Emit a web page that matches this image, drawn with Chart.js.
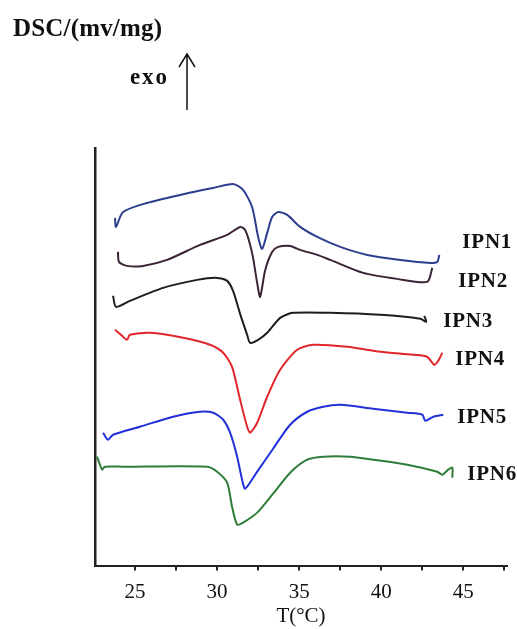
<!DOCTYPE html>
<html>
<head>
<meta charset="utf-8">
<script src="https://cdn.jsdelivr.net/npm/chart.js@4/dist/chart.umd.min.js"></script>
<style>
  html, body { margin: 0; padding: 0; background: #fff; }
  #wrap { width: 517px; height: 629px; }
</style>
</head>
<body>
<div id="wrap"><canvas id="chartDsc" width="517" height="629"></canvas></div>
<script>
// temperature (°C) and DSC signal (arbitrary units, curves offset)
const ipn1T = [23.78, 23.84, 24.27, 25.73, 27.74, 29.76, 30.97, 31.58, 32.13, 32.50, 32.74, 33.05, 33.35, 33.72, 34.27, 35.06, 36.10, 37.50, 39.15, 41.16, 42.99, 43.41, 43.54];
const ipn1Y = [34.8, 33.9, 35.4, 36.3, 37.1, 37.8, 38.2, 37.6, 35.9, 32.9, 31.7, 33.3, 34.9, 35.4, 35.1, 33.9, 32.9, 31.9, 31.1, 30.6, 30.3, 30.4, 31.1];

const ipn2T = [23.96, 24.02, 24.51, 25.49, 26.95, 28.96, 30.61, 31.40, 31.71, 32.13, 32.44, 32.62, 32.93, 33.35, 33.72, 34.45, 35.06, 36.10, 36.89, 38.90, 40.97, 42.80, 43.11];
const ipn2Y = [31.4, 30.4, 30.0, 30.0, 30.6, 32.1, 33.1, 33.9, 33.6, 31.3, 28.3, 26.9, 29.6, 31.4, 31.9, 32.0, 31.6, 31.1, 30.6, 29.3, 28.7, 28.4, 29.8];

const ipn3T = [23.66, 23.84, 24.69, 26.71, 28.78, 30.00, 30.61, 30.97, 31.40, 31.83, 32.01, 32.50, 33.05, 33.84, 34.63, 36.89, 39.94, 42.38, 42.74, 42.62];
const ipn3Y = [27.0, 25.9, 26.5, 27.8, 28.6, 28.8, 28.5, 27.5, 25.2, 23.1, 22.3, 22.6, 23.3, 24.8, 25.3, 25.3, 25.1, 24.7, 24.4, 25.0];

const ipn4T = [23.78, 24.21, 24.51, 24.69, 25.91, 27.93, 29.57, 30.37, 30.91, 31.40, 31.83, 32.01, 32.44, 33.05, 33.84, 34.88, 35.85, 37.93, 39.94, 41.95, 42.80, 43.23, 43.47, 43.72];
const ipn4Y = [23.6, 23.0, 22.6, 23.1, 23.3, 22.8, 22.1, 21.3, 19.9, 16.6, 13.9, 13.3, 14.3, 16.9, 19.6, 21.6, 22.1, 21.9, 21.4, 21.1, 20.9, 20.1, 20.5, 21.3];

const ipn5T = [23.05, 23.35, 23.66, 25.30, 27.32, 28.96, 29.76, 30.37, 30.79, 31.22, 31.52, 31.71, 32.44, 33.41, 34.45, 35.49, 36.46, 37.50, 39.51, 41.58, 42.50, 42.68, 43.17, 43.78];
const ipn5Y = [13.3, 12.6, 13.1, 13.9, 14.9, 15.4, 15.3, 14.6, 13.3, 10.9, 8.6, 7.7, 9.4, 11.7, 14.1, 15.4, 15.9, 16.1, 15.7, 15.3, 15.1, 14.5, 14.9, 15.1];

const ipn6T = [22.68, 22.86, 22.99, 23.17, 24.27, 29.39, 30.00, 30.61, 30.91, 31.22, 31.58, 32.44, 33.41, 34.45, 35.49, 36.46, 38.11, 39.51, 41.58, 43.41, 43.72, 44.08, 44.33, 44.33];
const ipn6Y = [10.9, 10.1, 9.6, 9.9, 9.9, 9.9, 9.4, 8.3, 5.9, 4.1, 4.3, 5.3, 7.2, 9.3, 10.6, 10.9, 10.9, 10.6, 10.1, 9.4, 9.1, 9.6, 9.8, 8.8];

const seriesNames = ["IPN1", "IPN2", "IPN3", "IPN4", "IPN5", "IPN6"];
const seriesT = [ipn1T, ipn2T, ipn3T, ipn4T, ipn5T, ipn6T];
const seriesY = [ipn1Y, ipn2Y, ipn3Y, ipn4Y, ipn5Y, ipn6Y];
const xTicks = [25, 30, 35, 40, 45];

const colors = ["#2d3e8e", "#3b2335", "#1e1e1e", "#e0262a", "#2230d8", "#2f7d38"];
// where each curve's name sits (T, signal), left edge of the text
const labelAnchors = [[44.94, 32.3], [44.69, 28.4], [43.78, 24.4], [44.51, 20.6], [44.63, 14.8], [45.24, 9.1]];

const serif = "'Liberation Serif', 'Times New Roman', serif";

function spacedText(ctx, text, x, y, width) {
  ctx.letterSpacing = "0px";
  const w = ctx.measureText(text).width;
  const sp = text.length > 1 ? (width - w) / (text.length - 1) : 0;
  ctx.letterSpacing = sp + "px";
  ctx.fillText(text, x, y);
  ctx.letterSpacing = "0px";
}

const annotations = {
  id: "annotations",
  afterDraw(chart) {
    const { ctx, scales } = chart;
    ctx.save();
    ctx.fillStyle = "#111";
    ctx.textBaseline = "middle";
    ctx.textAlign = "left";

    ctx.font = "bold 25px " + serif;
    spacedText(ctx, "DSC/(mv/mg)", 13, 30, 149);

    ctx.font = "bold 23px " + serif;
    spacedText(ctx, "exo", 130, 78, 37);

    ctx.strokeStyle = "#111";
    ctx.lineWidth = 1.5;
    ctx.beginPath();
    ctx.moveTo(187, 110);
    ctx.lineTo(187, 54);
    ctx.moveTo(179, 67);
    ctx.lineTo(187, 54);
    ctx.lineTo(195, 67);
    ctx.stroke();

    ctx.font = "bold 21px " + serif;
    labelAnchors.forEach((a, i) => {
      const px = scales.x.getPixelForValue(a[0]);
      const py = scales.y.getPixelForValue(a[1]);
      spacedText(ctx, seriesNames[i], px, py, 49);
    });
    ctx.restore();
  },
};

new Chart(document.getElementById("chartDsc").getContext("2d"), {
  type: "line",
  data: {
    datasets: seriesNames.map((name, i) => ({
      label: name,
      data: seriesT[i].map((t, k) => ({ x: t, y: seriesY[i][k] })),
      borderColor: colors[i],
      borderWidth: 2,
      pointRadius: 0,
      tension: 0.25,
      fill: false,
    })),
  },
  options: {
    responsive: false,
    animation: false,
    layout: { padding: { left: 95, top: 148, right: 10, bottom: 0 } },
    plugins: {
      legend: { display: false },
      tooltip: { enabled: false },
    },
    scales: {
      x: {
        type: "linear",
        min: 22.56,
        max: 47.66,
        afterBuildTicks: (axis) => {
          const t = [];
          for (let v = 25; v <= 47.5; v += 2.5) t.push({ value: v });
          axis.ticks = t;
        },
        ticks: {
          autoSkip: false,
          maxRotation: 0,
          padding: 9,
          color: "#111",
          font: { family: serif, size: 21 },
          callback: (v) => (xTicks.includes(v) ? String(v) : ""),
        },
        grid: { drawOnChartArea: false, drawTicks: true, tickLength: 5, color: "#222", lineWidth: 2 },
        border: { display: true, color: "#222", width: 2 },
        title: {
          display: true,
          text: "T(°C)",
          color: "#111",
          font: { family: serif, size: 21 },
          padding: { top: -10, bottom: 0 },
        },
      },
      y: {
        type: "linear",
        min: 0,
        max: 41.8,
        ticks: { display: false },
        grid: { display: true, drawOnChartArea: false, drawTicks: false },
        border: { display: true, color: "#222", width: 2.5 },
      },
    },
  },
  plugins: [annotations],
});
</script>
</body>
</html>
